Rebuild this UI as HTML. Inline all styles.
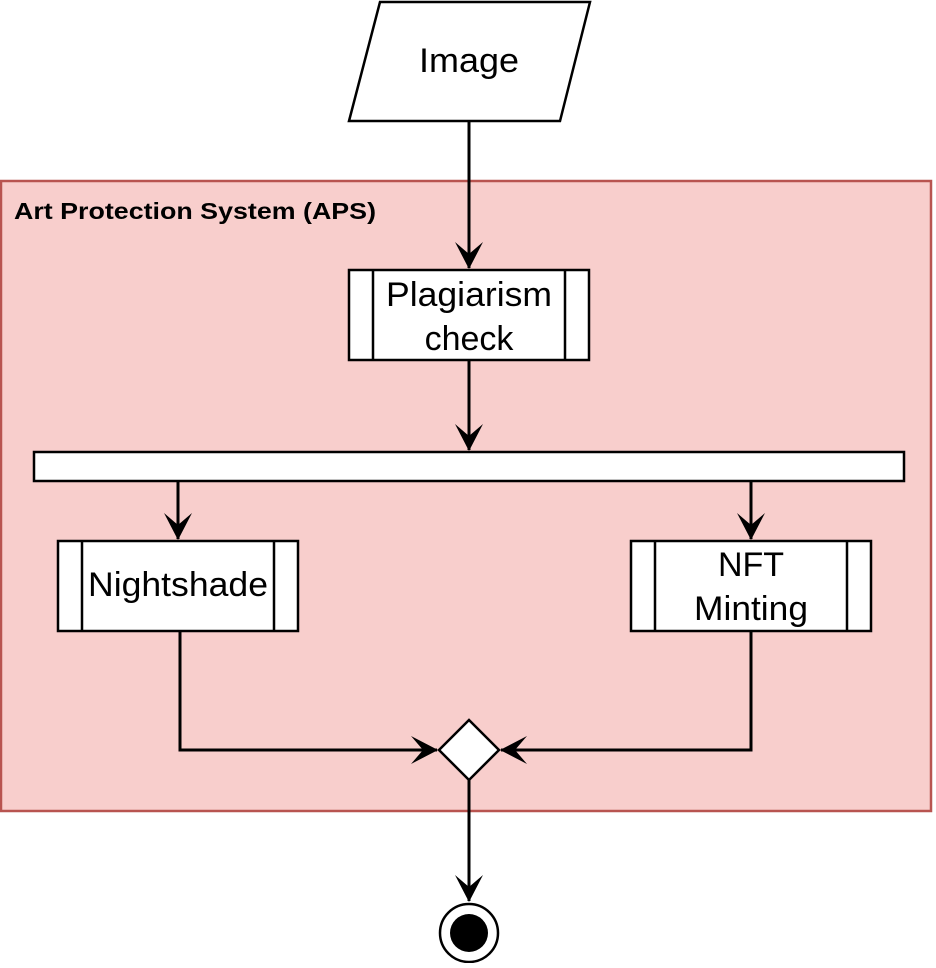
<!DOCTYPE html>
<html><head><style>body{margin:0;background:#fff}</style></head><body>
<svg width="936" height="963" xmlns="http://www.w3.org/2000/svg" font-family="Liberation Sans, Arial, sans-serif">
<defs>
<marker id="a" markerWidth="28" markerHeight="28" refX="26" refY="14" orient="auto" markerUnits="userSpaceOnUse">
<path d="M0,0 L27,14 L0,28 L12,14 Z" fill="#000"/>
</marker>
</defs>
<polygon points="380,2 590,2 560,121 349,121" fill="#fff" stroke="#000" stroke-width="2.5"/>
<text x="469" y="72" font-size="34" text-anchor="middle" textLength="100" lengthAdjust="spacingAndGlyphs">Image</text>
<rect x="1" y="181" width="930" height="630" fill="#f8cecc" stroke="#b85450" stroke-width="2.5"/>
<text x="14" y="219" font-size="23" font-weight="bold" textLength="362" lengthAdjust="spacingAndGlyphs">Art Protection System (APS)</text>
<line x1="469" y1="121" x2="469" y2="268" stroke="#000" stroke-width="3" marker-end="url(#a)"/>
<rect x="349" y="270" width="240" height="90" fill="#fff" stroke="#000" stroke-width="2.5"/>
<line x1="373" y1="270" x2="373" y2="360" stroke="#000" stroke-width="2.5"/>
<line x1="565" y1="270" x2="565" y2="360" stroke="#000" stroke-width="2.5"/>
<text x="469" y="306" font-size="34" text-anchor="middle" textLength="166" lengthAdjust="spacingAndGlyphs">Plagiarism</text>
<text x="469" y="350" font-size="34" text-anchor="middle">check</text>
<line x1="469" y1="360" x2="469" y2="450" stroke="#000" stroke-width="3" marker-end="url(#a)"/>
<rect x="34" y="452" width="870" height="29" fill="#fff" stroke="#000" stroke-width="2.5"/>
<line x1="178" y1="481" x2="178" y2="539" stroke="#000" stroke-width="3" marker-end="url(#a)"/>
<line x1="751" y1="481" x2="751" y2="539" stroke="#000" stroke-width="3" marker-end="url(#a)"/>
<rect x="58" y="541" width="240" height="90" fill="#fff" stroke="#000" stroke-width="2.5"/>
<line x1="82" y1="541" x2="82" y2="631" stroke="#000" stroke-width="2.5"/>
<line x1="274" y1="541" x2="274" y2="631" stroke="#000" stroke-width="2.5"/>
<text x="178" y="596" font-size="34" text-anchor="middle" textLength="180" lengthAdjust="spacingAndGlyphs">Nightshade</text>
<rect x="631" y="541" width="240" height="90" fill="#fff" stroke="#000" stroke-width="2.5"/>
<line x1="655" y1="541" x2="655" y2="631" stroke="#000" stroke-width="2.5"/>
<line x1="847" y1="541" x2="847" y2="631" stroke="#000" stroke-width="2.5"/>
<text x="751" y="576" font-size="34" text-anchor="middle">NFT</text>
<text x="751" y="620" font-size="34" text-anchor="middle" textLength="114" lengthAdjust="spacingAndGlyphs">Minting</text>
<polyline points="180,631 180,750 437,750" fill="none" stroke="#000" stroke-width="3" marker-end="url(#a)"/>
<polyline points="751,631 751,750 501,750" fill="none" stroke="#000" stroke-width="3" marker-end="url(#a)"/>
<polygon points="469,720 499,750 469,780 439,750" fill="#fff" stroke="#000" stroke-width="2.5"/>
<line x1="469" y1="780" x2="469" y2="901" stroke="#000" stroke-width="3" marker-end="url(#a)"/>
<circle cx="469" cy="933" r="29" fill="#fff" stroke="#000" stroke-width="2.5"/>
<circle cx="469" cy="933" r="19" fill="#000"/>
</svg>
</body></html>
